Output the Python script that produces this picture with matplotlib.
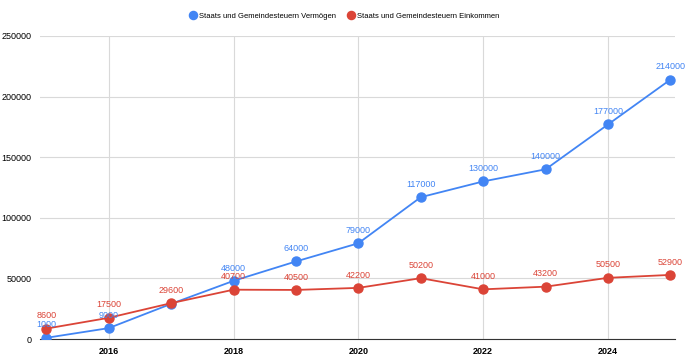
import matplotlib.pyplot as plt

years = [2015, 2016, 2017, 2018, 2019, 2020, 2021, 2022, 2023, 2024, 2025]
vermoegen = [1000, 9000, 29000, 48000, 64000, 79000, 117000, 130000, 140000, 177000, 214000]
einkommen = [8600, 17500, 29600, 40700, 40500, 42200, 50200, 41000, 43200, 50500, 52900]
x_ticks = [2016, 2018, 2020, 2022, 2024]
y_ticks = [0, 50000, 100000, 150000, 200000, 250000]

blue = "#4285F4"
red = "#DB4437"

plt.rcParams["font.family"] = ["Liberation Sans", "DejaVu Sans"]

fig = plt.figure(figsize=(6.9, 3.63), dpi=100)
ax = fig.add_axes([0.058, 0.066, 0.92, 0.835])

ax.plot(years, vermoegen, color=blue, lw=1.3, marker="o", ms=6.5, zorder=3,
        label="Staats und Gemeindesteuern Vermögen")
ax.plot(years, einkommen, color=red, lw=1.3, marker="o", ms=6.5, zorder=3,
        label="Staats und Gemeindesteuern Einkommen")

# labels above points; the 2017 blue label is hidden behind the red one
for x, v in zip(years, vermoegen):
    if x == 2017:
        continue
    ax.annotate(str(v), (x, v), xytext=(0, 6), textcoords="offset points",
                ha="center", va="bottom", fontsize=6.5, color=blue)
for x, v in zip(years, einkommen):
    ax.annotate(str(v), (x, v), xytext=(0, 6), textcoords="offset points",
                ha="center", va="bottom", fontsize=6.5, color=red)

ax.set_xlim(2014.9, 2025.07)
ax.set_ylim(0, 250000)
ax.set_xticks(x_ticks)
ax.set_yticks(y_ticks)
ax.tick_params(length=0, labelsize=6.5, pad=6)
for lab in ax.get_xticklabels():
    lab.set_fontweight("bold")
ax.grid(True, color="#d9d9d9", lw=0.8)
ax.set_axisbelow(True)
for s in ["top", "right", "left"]:
    ax.spines[s].set_visible(False)
ax.spines["bottom"].set_color("#333333")

leg = fig.legend(loc="center", bbox_to_anchor=(0.5, 1 - 16 / 363), ncol=2, frameon=False,
                 fontsize=5.5, handlelength=0.6, columnspacing=1.7, handletextpad=0.5,
                 markerscale=0.9)
for h in leg.legend_handles:
    h.set_linestyle("none")

fig.savefig("out.png", dpi=100)
